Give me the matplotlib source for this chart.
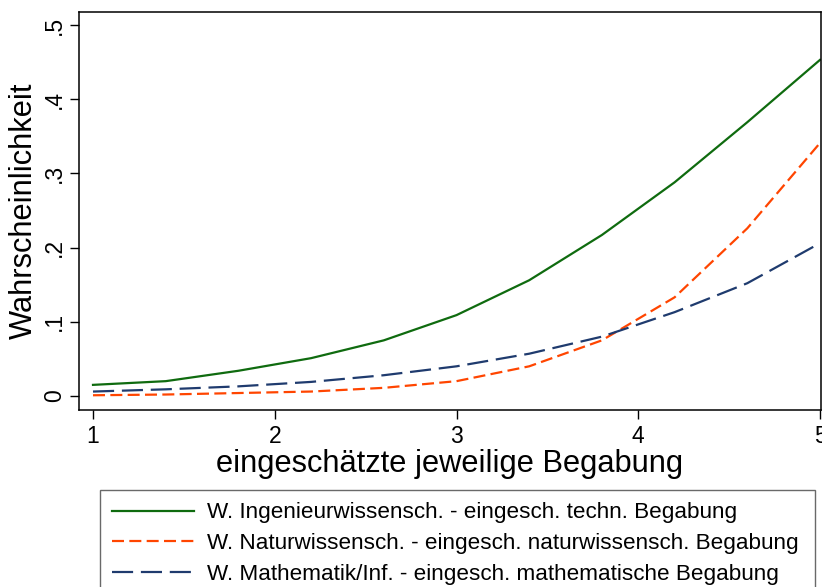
import matplotlib
matplotlib.use("Agg")
import matplotlib.pyplot as plt

x = [1.0, 1.4, 1.8, 2.2, 2.6, 3.0, 3.4, 3.8, 4.2, 4.6, 5.0]
ingenieur = [0.015, 0.020, 0.034, 0.051, 0.075, 0.109, 0.156, 0.217, 0.288, 0.369, 0.453]
natur = [0.001, 0.002, 0.004, 0.006, 0.011, 0.020, 0.040, 0.075, 0.133, 0.226, 0.341]
mathe = [0.006, 0.009, 0.013, 0.019, 0.028, 0.040, 0.057, 0.080, 0.113, 0.152, 0.206]
labels = ["W. Ingenieurwissensch. - eingesch. techn. Begabung",
          "W. Naturwissensch. - eingesch. naturwissensch. Begabung",
          "W. Mathematik/Inf. - eingesch. mathematische Begabung"]
xticks = [1, 2, 3, 4, 5]
yticks = [0, 0.1, 0.2, 0.3, 0.4, 0.5]
yticklabels = ["0", ".1", ".2", ".3", ".4", ".5"]

plt.rcParams['font.family'] = ['Liberation Sans', 'DejaVu Sans']

W, H = 822, 587
fig = plt.figure(figsize=(W/100, H/100), dpi=100)
ax = fig.add_axes([79/W, 1-410/H, (821-79)/W, (410-12)/H])

ax.plot(x, ingenieur, color="#0f6b0f", lw=1.6, label=labels[0])
ax.plot(x, natur, color="#ff4500", lw=1.6, dashes=(5.4, 2.4), label=labels[1])
ax.plot(x, mathe, color="#1f3b6e", lw=1.6, dashes=(9.5, 3.5), label=labels[2])

ax.set_xlim(1 - 14/181.75, 5 + 1/181.75)
ax.set_ylim(-14/742, 0.5 + 13/742)
ax.set_xticks(xticks)
ax.set_xticklabels([str(t) for t in xticks], fontsize=16.5)
ax.set_yticks(yticks)
ax.set_yticklabels(yticklabels, fontsize=16.5, rotation=90, va='center')
ax.tick_params(direction='out', length=6.5, width=1, colors='black')
ax.tick_params(axis='y', pad=3)
ax.tick_params(axis='x', pad=4)
for s in ax.spines.values():
    s.set_linewidth(1.1)
    s.set_color('black')

ax.set_xlabel("eingeschätzte jeweilige Begabung", fontsize=22.2)
ax.xaxis.set_label_coords(0.5, -(449-410)/398)
ax.set_ylabel("Wahrscheinlichkeit", fontsize=22.2)
ax.yaxis.set_label_coords((39-79)/742, 0.5)

leg = fig.legend(loc='upper left', bbox_to_anchor=(100/W, 1-490/H, 715/W, 0),
                 mode='expand', fontsize=16.2, frameon=True, fancybox=False,
                 edgecolor='#444444', handlelength=3.64, handletextpad=0.58,
                 borderpad=0.55, labelspacing=0.43, borderaxespad=0)
leg.get_frame().set_linewidth(1.0)

fig.savefig("out.png", dpi=100)
